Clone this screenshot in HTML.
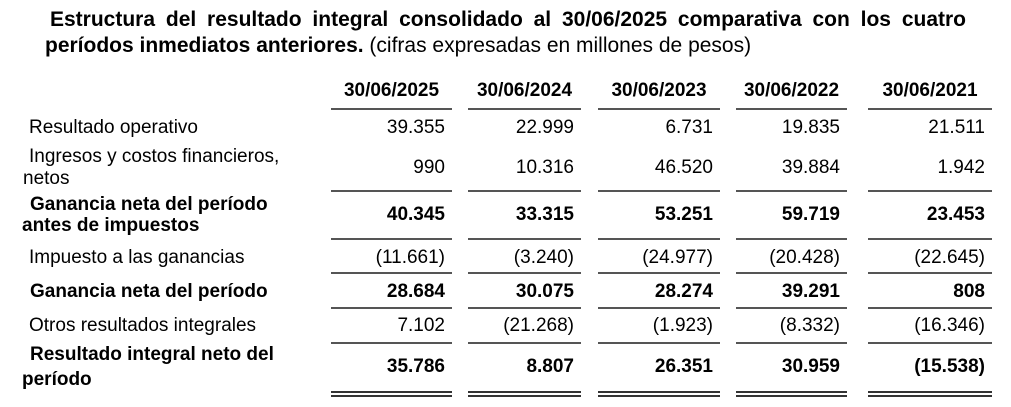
<!DOCTYPE html>
<html><head><meta charset="utf-8"><style>
body{margin:0;width:1011px;height:407px;background:#fff;position:relative;overflow:hidden;font-family:"Liberation Sans",Arial,sans-serif;color:#000}
.a{position:absolute;white-space:nowrap;line-height:1}
.t{font-weight:bold;font-size:21px}
.l{font-size:19px}
.b{font-weight:bold}
.v{font-size:19px;text-align:right;width:140px}
.ln{position:absolute;height:2px;background:#555}
</style></head><body>
<div class="a t" style="left:50px;top:9px;width:916px;text-align:justify;text-align-last:justify;word-spacing:0">Estructura del resultado integral consolidado al 30/06/2025 comparativa con los cuatro</div>
<div class="a t" style="left:45px;top:35px">períodos inmediatos anteriores. <span style="font-weight:normal;font-size:21px">(cifras expresadas en millones de pesos)</span></div>
<div id="tbl"></div>
<script>
const years=["30/06/2025","30/06/2024","30/06/2023","30/06/2022","30/06/2021"];
const labels=[["Resultado operativo"],["Ingresos y costos financieros,","netos"],["Ganancia neta del período","antes de impuestos"],["Impuesto a las ganancias"],["Ganancia neta del período"],["Otros resultados integrales"],["Resultado integral neto del","período"]];
const bold=[false,false,true,false,true,false,true];
const r0=["39.355","22.999","6.731","19.835","21.511"];
const r1=["990","10.316","46.520","39.884","1.942"];
const r2=["40.345","33.315","53.251","59.719","23.453"];
const r3=["(11.661)","(3.240)","(24.977)","(20.428)","(22.645)"];
const r4=["28.684","30.075","28.274","39.291","808"];
const r5=["7.102","(21.268)","(1.923)","(8.332)","(16.346)"];
const r6=["35.786","8.807","26.351","30.959","(15.538)"];
const rows=[r0,r1,r2,r3,r4,r5,r6];
const colL=[331,468,598,736,868],colR=[452,581,720,847,992];
const valY=[118,158,205,248,282,316,357];
const labY=[[118],[147,169],[195,216],[248],[282],[316],[345,370]];
const labX=[[29],[29,23],[30,22],[29],[30],[29],[30,22]];
const lineY=[108,190,238,272,307,342];
const root=document.getElementById('tbl');
function mk(cls,txt,x,y){const d=document.createElement('div');d.className=cls;d.textContent=txt;d.style.left=x+'px';d.style.top=y+'px';root.appendChild(d);return d;}
years.forEach((y,i)=>{const d=mk('a l b',y,colL[i],81);d.style.width=(colR[i]-colL[i])+'px';d.style.textAlign='center';


lineY.forEach(ly=>{const l=mk('ln','',colL[i],ly);l.style.width=(colR[i]-colL[i])+'px';

});
[391,395].forEach(ly=>{const l=mk('ln','',colL[i],ly);l.style.width=(colR[i]-colL[i])+'px';l.style.height='1.5px';l.style.background='#333';

});
});
labels.forEach((lab,r)=>{lab.forEach((t,k)=>{const d=mk('a l'+(bold[r]?' b':''),t,labX[r][k],labY[r][k]);

});
rows[r].forEach((v,i)=>{const d=mk('a v'+(bold[r]?' b':''),v,colR[i]-147,valY[r]);

});});
</script>
</body></html>
